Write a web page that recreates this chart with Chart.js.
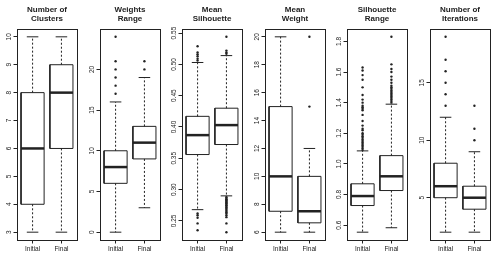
<!DOCTYPE html>
<html>
<head>
<meta charset="utf-8">
<script src="https://cdn.jsdelivr.net/npm/chart.js@4"></script>
<style>
  html, body { margin: 0; padding: 0; background: #fff; }
  #wrap { position: relative; width: 495px; height: 270px; overflow: hidden; }
  .panel { position: absolute; top: 0; width: 83px; height: 270px; }
</style>
</head>
<body>
<div id="wrap"></div>
<script>
// Six boxplot panels comparing Initial vs Final runs
const groups = ['Initial', 'Final'];

// each stats row: [lower whisker, Q1, median, Q3, upper whisker]
const clustersStats = [[3, 4, 6, 8, 10], [3, 6, 8, 9, 10]];
const clustersOutliers = [[], []];
const clustersTicks = ['3', '4', '5', '6', '7', '8', '9', '10'];

const weightsRangeStats = [[0, 6, 8, 10, 16], [3, 9, 11, 13, 19]];
const weightsRangeOutliers = [[17, 18, 19, 20, 21, 24], [20, 21]];
const weightsRangeTicks = ['0', '5', '10', '15', '20'];

const meanSilStats = [[0.268, 0.356, 0.387, 0.417, 0.503], [0.290, 0.372, 0.403, 0.430, 0.514]];
const meanSilOutliers = [
    [0.506, 0.509, 0.513, 0.516, 0.519, 0.529, 0.262, 0.259, 0.255, 0.246, 0.235],
    [0.517, 0.519, 0.522, 0.544, 0.288, 0.287, 0.285, 0.284, 0.283, 0.281, 0.280, 0.278, 0.277,
     0.275, 0.274, 0.272, 0.270, 0.268, 0.266, 0.264, 0.262, 0.259, 0.256, 0.246, 0.232]
];
const meanSilTicks = ['0.25', '0.30', '0.35', '0.40', '0.45', '0.50', '0.55'];

const meanWeightStats = [[6, 7.5, 10, 15, 20], [6, 6.67, 7.5, 10, 12]];
const meanWeightOutliers = [[], [15, 20]];
const meanWeightTicks = ['6', '8', '10', '12', '14', '16', '18', '20'];

const silRangeStats = [[0.554, 0.728, 0.790, 0.870, 1.085], [0.583, 0.826, 0.919, 1.054, 1.390]];
const silRangeOutliers = [
    [1.09, 1.10, 1.11, 1.12, 1.13, 1.14, 1.15, 1.16, 1.17, 1.18, 1.19, 1.20, 1.22, 1.23, 1.25,
     1.28, 1.32, 1.35, 1.36, 1.37, 1.38, 1.40, 1.42, 1.45, 1.50, 1.55, 1.58, 1.61, 1.63],
    [1.40, 1.41, 1.42, 1.43, 1.44, 1.45, 1.46, 1.47, 1.48, 1.49, 1.50, 1.51, 1.53, 1.55, 1.57,
     1.60, 1.62, 1.65, 1.83]
];
const silRangeTicks = ['0.6', '0.8', '1.0', '1.2', '1.4', '1.6', '1.8'];

const iterStats = [[2, 5, 6, 8, 12], [2, 4, 5, 6, 9]];
const iterOutliers = [[13, 14, 15, 16, 17, 19], [10, 11, 13]];
const iterTicks = ['5', '10', '15'];

const panels = [
    { title: ['Number of', 'Clusters'], stats: clustersStats, outliers: clustersOutliers, ticks: clustersTicks },
    { title: ['Weights', 'Range'], stats: weightsRangeStats, outliers: weightsRangeOutliers, ticks: weightsRangeTicks },
    { title: ['Mean', 'Silhouette'], stats: meanSilStats, outliers: meanSilOutliers, ticks: meanSilTicks },
    { title: ['Mean', 'Weight'], stats: meanWeightStats, outliers: meanWeightOutliers, ticks: meanWeightTicks },
    { title: ['Silhouette', 'Range'], stats: silRangeStats, outliers: silRangeOutliers, ticks: silRangeTicks },
    { title: ['Number of', 'Iterations'], stats: iterStats, outliers: iterOutliers, ticks: iterTicks }
];

const INK = '#222';
const FONT = '"Liberation Sans", Arial, sans-serif';
const BOX = 0.4;      // half box width in x units (R boxwex 0.8)
const STAPLE = 0.2;   // half staple width

// frame, panel title and rotated y labels (R style)
const panelDecor = {
    id: 'panelDecor',
    afterDraw(chart, args, opts) {
        const { ctx, chartArea: a, scales: { y } } = chart;
        ctx.save();
        ctx.strokeStyle = INK;
        ctx.lineWidth = 1;
        ctx.strokeRect(Math.round(a.left) + 0.5, Math.round(a.top) + 0.5,
            Math.round(a.right - a.left), Math.round(a.bottom - a.top));
        ctx.fillStyle = INK;
        ctx.textAlign = 'center';
        ctx.textBaseline = 'middle';
        ctx.font = 'bold 8px ' + FONT;
        const cx = (a.left + a.right) / 2;
        opts.title.forEach((t, k) => ctx.fillText(t, cx, 9.5 + k * 9.5));
        ctx.font = '6.5px ' + FONT;
        y.ticks.forEach((t, k) => {
            ctx.save();
            ctx.translate(a.left - 7.5, y.getPixelForValue(t.value));
            ctx.rotate(-Math.PI / 2);
            ctx.fillText(opts.labels[k], 0, 0);
            ctx.restore();
        });
        ctx.restore();
    }
};

function seg(data, extra) {
    return Object.assign({
        type: 'line', data: data, borderColor: INK, borderWidth: 1,
        pointRadius: 0, fill: false, tension: 0
    }, extra || {});
}

function buildDatasets(stats, outliers) {
    const ds = [];
    stats.forEach((s, i) => {
        const x = i + 1;
        const [lo, q1, med, q3, hi] = s;
        ds.push(seg([{ x, y: q3 }, { x, y: hi }], { borderDash: [2, 2] }));
        ds.push(seg([{ x, y: q1 }, { x, y: lo }], { borderDash: [2, 2] }));
        ds.push(seg([{ x: x - STAPLE, y: hi }, { x: x + STAPLE, y: hi }]));
        ds.push(seg([{ x: x - STAPLE, y: lo }, { x: x + STAPLE, y: lo }]));
        ds.push(seg([{ x: x - BOX, y: q1 }, { x: x + BOX, y: q1 }, { x: x + BOX, y: q3 },
                     { x: x - BOX, y: q3 }, { x: x - BOX, y: q1 }]));
        ds.push(seg([{ x: x - BOX, y: med }, { x: x + BOX, y: med }], { borderWidth: 2.5 }));
        ds.push({
            type: 'scatter', data: outliers[i].map(v => ({ x, y: v })),
            pointRadius: 1.2, pointBackgroundColor: INK, pointBorderWidth: 0
        });
    });
    return ds;
}

const wrap = document.getElementById('wrap');

panels.forEach((p, idx) => {
    const div = document.createElement('div');
    div.className = 'panel';
    div.style.left = Math.round(idx * 82.5) + 'px';
    const canvas = document.createElement('canvas');
    canvas.width = 83;
    canvas.height = 270;
    div.appendChild(canvas);
    wrap.appendChild(div);

    const all = p.stats.flat().concat(p.outliers.flat());
    const lo = Math.min(...all), hi = Math.max(...all);
    const pad = (hi - lo) * 0.04;

    new Chart(canvas.getContext('2d'), {
        type: 'scatter',
        data: { datasets: buildDatasets(p.stats, p.outliers) },
        plugins: [panelDecor],
        options: {
            responsive: false,
            animation: false,
            layout: { padding: { top: 29, right: 6, left: 0, bottom: 0 } },
            plugins: {
                legend: { display: false },
                tooltip: { enabled: false },
                panelDecor: { title: p.title, labels: p.ticks }
            },
            scales: {
                x: {
                    type: 'linear', min: 0.46, max: 2.54,
                    afterBuildTicks: s => { s.ticks = groups.map((g, i) => ({ value: i + 1 })); },
                    afterFit: s => { s.height = 30; },
                    ticks: {
                        callback: (v, i) => groups[i],
                        font: { size: 6.5, family: FONT }, color: INK,
                        padding: 1.5, maxRotation: 0, autoSkip: false
                    },
                    grid: { drawOnChartArea: false, drawTicks: true, tickLength: 3.5, color: INK },
                    border: { display: false }
                },
                y: {
                    type: 'linear', min: lo - pad, max: hi + pad,
                    afterBuildTicks: s => { s.ticks = p.ticks.map(t => ({ value: parseFloat(t) })); },
                    afterFit: s => { s.width = 17; },
                    ticks: { display: false },
                    grid: { drawOnChartArea: false, drawTicks: true, tickLength: 3.5, color: INK },
                    border: { display: false }
                }
            }
        }
    });
});
</script>
</body>
</html>
